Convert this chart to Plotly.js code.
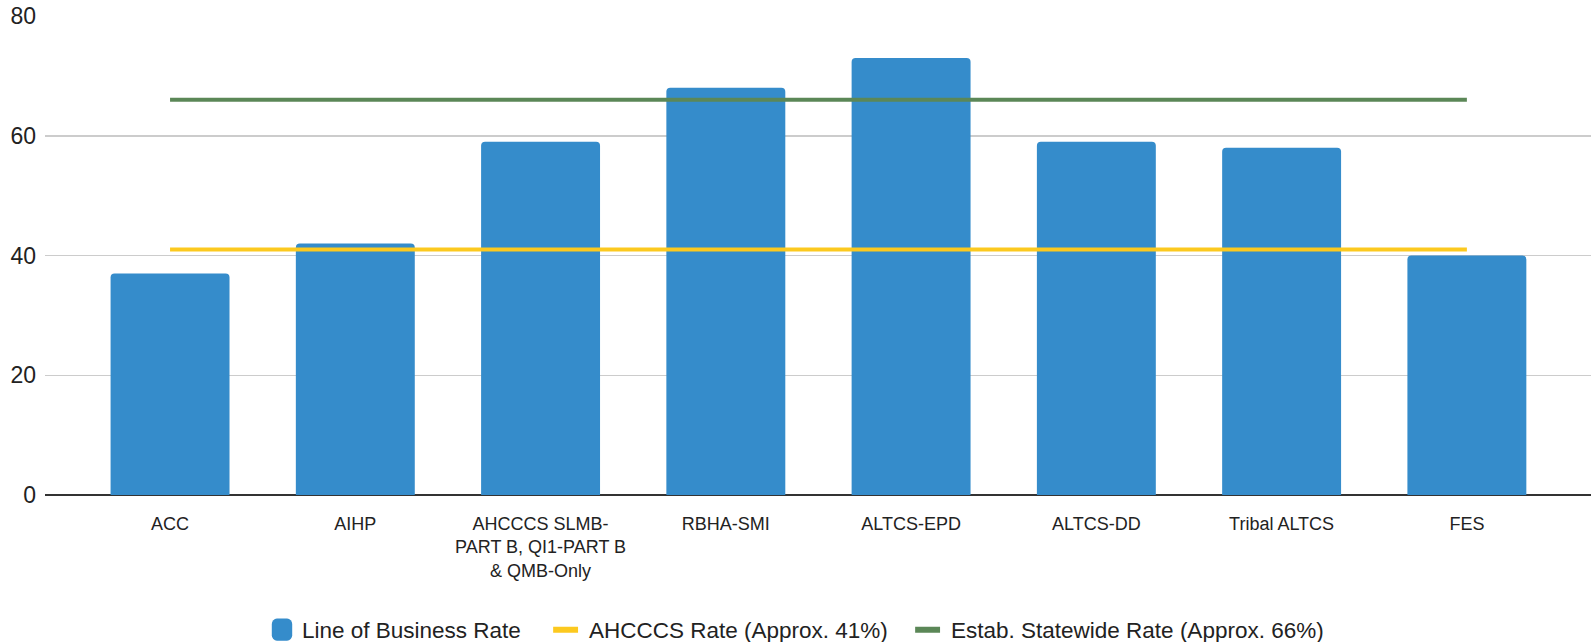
<!DOCTYPE html>
<html>
<head>
<meta charset="utf-8">
<script src="https://cdn.plot.ly/plotly-3.0.1.min.js"></script>
<style>html,body{margin:0;padding:0;background:#fff;}#chart{width:1591px;height:642px;}</style>
</head>
<body>
<div id="chart"></div>
<script>
var categories = ["ACC", "AIHP", "AHCCCS SLMB-PART B, QI1-PART B & QMB-Only", "RBHA-SMI", "ALTCS-EPD", "ALTCS-DD", "Tribal ALTCS", "FES"];
var tickLabels = ["ACC", "AIHP", "AHCCCS SLMB-<br>PART B, QI1-PART B<br>& QMB-Only", "RBHA-SMI", "ALTCS-EPD", "ALTCS-DD", "Tribal ALTCS", "FES"];
var lineOfBusinessRate = [37, 42, 59, 68, 73, 59, 58, 40];
var ahcccsRate = [41, 41, 41, 41, 41, 41, 41, 41];
var statewideRate = [66, 66, 66, 66, 66, 66, 66, 66];
var yTicks = [0, 20, 40, 60, 80];

var font = "Liberation Sans, Arial, sans-serif";

var traces = [
  {
    type: "bar",
    name: "Line of Business Rate",
    x: categories,
    y: lineOfBusinessRate,
    marker: {color: "#358ccb", cornerradius: 4},
    legend: "legend"
  },
  {
    type: "scatter",
    mode: "lines",
    name: "AHCCCS Rate (Approx. 41%)",
    x: categories,
    y: ahcccsRate,
    line: {color: "#fcc91f", width: 4},
    legend: "legend2"
  },
  {
    type: "scatter",
    mode: "lines",
    name: "Estab. Statewide Rate (Approx. 66%)",
    x: categories,
    y: statewideRate,
    line: {color: "#5b8757", width: 4},
    legend: "legend3"
  }
];

function legendAt(px) {
  return {
    orientation: "h",
    xref: "container",
    yref: "container",
    x: px / 1591,
    xanchor: "left",
    y: 1 - 630 / 642,
    yanchor: "middle",
    font: {family: font, size: 22.5, color: "#222222"},
    bgcolor: "rgba(0,0,0,0)"
  };
}

var layout = {
  width: 1591,
  height: 642,
  margin: {l: 45, r: 0, t: 15.5, b: 147},
  paper_bgcolor: "#ffffff",
  plot_bgcolor: "#ffffff",
  bargap: 0.358,
  font: {family: font, color: "#222222", size: 18},
  xaxis: {
    type: "category",
    range: [-0.675, 7.67],
    tickvals: categories,
    ticktext: tickLabels,
    tickangle: 0,
    showgrid: false,
    showline: false,
    ticks: "",
    ticklabelstandoff: 16,
    tickfont: {family: font, size: 18, color: "#222222"}
  },
  yaxis: {
    range: [0, 80],
    tickvals: yTicks,
    showgrid: true,
    gridcolor: "#cccccc",
    gridwidth: 1.5,
    zeroline: true,
    zerolinecolor: "#333333",
    zerolinewidth: 2,
    showline: false,
    ticks: "",
    ticklabelstandoff: 8,
    tickfont: {family: font, size: 23, color: "#222222"}
  },
  legend: legendAt(262),
  legend2: legendAt(549),
  legend3: legendAt(911),
  showlegend: true
};

function tweakLegendSymbols(gd) {
  gd.querySelectorAll(".legendpoints path").forEach(function (p) {
    var t = p.getAttribute("transform") || "";
    p.setAttribute("transform", t + " scale(1.7,1.85)");
  });
  gd.querySelectorAll(".legendlines path").forEach(function (p) {
    var t = p.getAttribute("transform") || "";
    p.setAttribute("transform", t + " scale(0.83,1)");
    p.style.strokeWidth = "6px";
  });
}

Plotly.newPlot("chart", traces, layout, {displayModeBar: false, staticPlot: true}).then(function (gd) {
  tweakLegendSymbols(gd);
});
</script>
</body>
</html>
